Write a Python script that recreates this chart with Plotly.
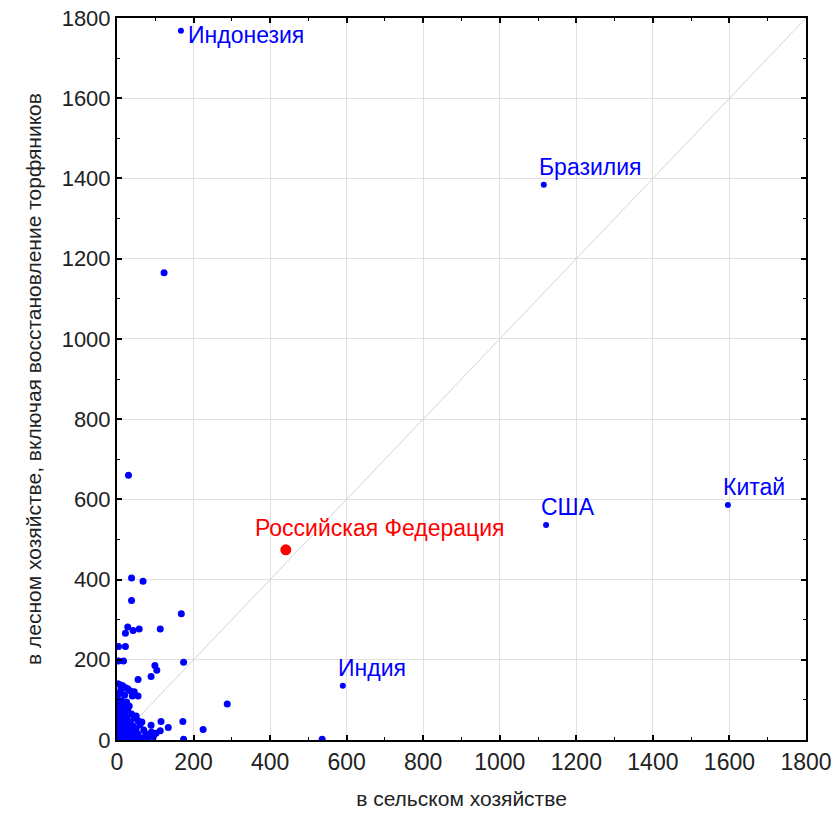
import plotly.graph_objects as go

# Labeled countries
lab_names = ["Индонезия", "Бразилия", "США", "Китай", "Индия"]
lab_x = [167, 1115, 1121, 1596, 590]
lab_y = [1768, 1384, 536, 586, 135]

rus_name = "Российская Федерация"
rus_x = [441]
rus_y = [474]

# Other countries (unlabeled)
oth_x = [38, 68, 38, 168, 28, 22, 42, 58, 113, 4, 22, 4, 17, 174, 99, 104, 89, 55, 288, 89,
         115, 172, 134, 225, 113, 102, 174, 536, 30, 123,
         2, 8, 15, 22, 28, 10, 35, 45, 5, 20, 40, 55,
         3, 12, 25, 8, 18, 32, 4, 14, 28, 6, 20, 38, 2, 12, 26, 45, 8, 18, 35, 55,
         3, 14, 28, 42, 60, 6, 20, 36, 50, 70, 2, 12, 25, 40, 55, 75, 90,
         5, 18, 32, 48, 62, 80, 95, 3, 10, 22, 40, 58, 72, 1, 1, 1, 1, 50, 65]
oth_y = [404, 396, 348, 315, 282, 266, 273, 277, 277, 233, 233, 197, 197, 194, 186, 174, 158, 151, 90, 37,
         46, 46, 31, 26, 23, 17, 2, 2, 660, 1165,
         140, 138, 135, 130, 128, 125, 122, 120, 115, 112, 110, 110,
         100, 98, 95, 90, 88, 85, 80, 78, 75, 70, 68, 65, 60, 58, 55, 55, 50, 48, 45, 48,
         40, 38, 36, 35, 38, 30, 28, 25, 28, 25, 20, 18, 15, 18, 15, 15, 20,
         10, 8, 6, 8, 5, 5, 8, 3, 2, 2, 2, 2, 3, 55, 30, 90, 115, 60, 45]

diag = [0, 1800]
ticks = [0, 200, 400, 600, 800, 1000, 1200, 1400, 1600, 1800]

BLUE = "#0000ff"
RED = "#ff0000"
FONT = "Liberation Sans, Arial, sans-serif"

fig = go.Figure()
fig.add_trace(go.Scatter(x=diag, y=diag, mode="lines",
                         line=dict(color="#d4d4d4", width=1), hoverinfo="skip"))
fig.add_trace(go.Scatter(x=oth_x, y=oth_y, mode="markers",
                         marker=dict(color=BLUE, size=7)))
fig.add_trace(go.Scatter(x=lab_x, y=lab_y, mode="markers",
                         marker=dict(color=BLUE, size=6)))
fig.add_trace(go.Scatter(x=rus_x, y=rus_y, mode="markers",
                         marker=dict(color=RED, size=11)))

# label annotations
for i, (n, x, y) in enumerate(zip(lab_names, lab_x, lab_y)):
    if i == 0:
        fig.add_annotation(x=x, y=y, text=n, showarrow=False, xanchor="left",
                           yanchor="middle", xshift=5, yshift=-4,
                           font=dict(color=BLUE, size=23, family=FONT))
    else:
        fig.add_annotation(x=x, y=y, text=n, showarrow=False, xanchor="left",
                           yanchor="bottom", xshift=-7, yshift=3,
                           font=dict(color=BLUE, size=23, family=FONT))
fig.add_annotation(x=rus_x[0], y=rus_y[0], text=rus_name, showarrow=False,
                   xanchor="left", yanchor="bottom", xshift=-33, yshift=7,
                   font=dict(color=RED, size=23, family=FONT))

axis_common = dict(
    range=[0, 1800], tickvals=ticks, ticktext=[str(t) for t in ticks],
    showgrid=True, gridcolor="#e0e0e0", gridwidth=1,
    showline=True, linecolor="black", linewidth=2, mirror="allticks",
    ticks="inside", ticklen=5, tickwidth=2, tickcolor="black",
    minor=dict(ticks="inside", ticklen=3, tickwidth=1, tickcolor="black", dtick=100, showgrid=False),
    zeroline=False, automargin=False,
)

fig.update_layout(
    width=833, height=816,
    margin=dict(l=117, r=27, t=18, b=76),
    plot_bgcolor="white", paper_bgcolor="white",
    showlegend=False,
    xaxis=dict(**axis_common, tickfont=dict(size=23, color="#222", family=FONT),
               title=dict(text="в сельском хозяйстве",
                          font=dict(size=21, color="#222", family=FONT), standoff=18)),
    yaxis=dict(**axis_common, tickfont=dict(size=22, color="#222", family=FONT),
               title=dict(text="в лесном хозяйстве, включая восстановление торфяников",
                          font=dict(size=21, color="#222", family=FONT), standoff=14)),
)
fig.write_html("out.html")
